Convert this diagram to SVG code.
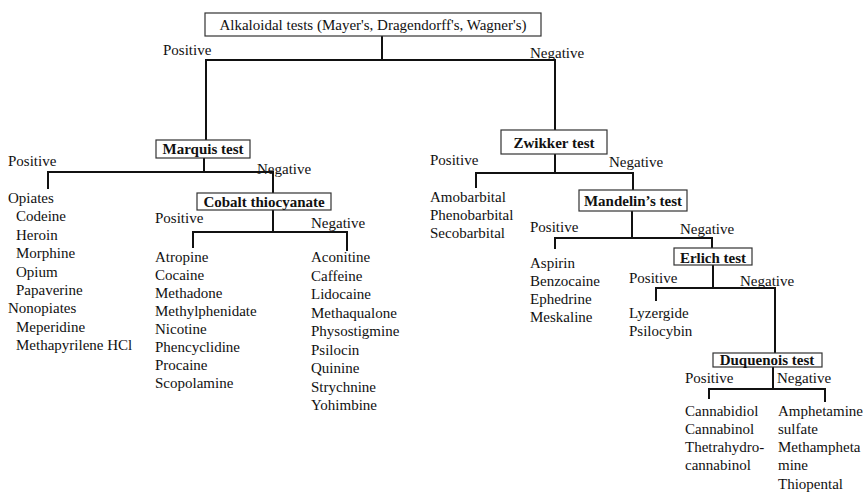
<svg xmlns="http://www.w3.org/2000/svg" width="865" height="493" viewBox="0 0 865 493" font-family="'Liberation Serif', Tinos, 'Times New Roman', 'DejaVu Serif', serif">
  <style>
    text { font-family: "Liberation Serif", Tinos, "Times New Roman", "DejaVu Serif", serif; font-size: 15px; fill: #111; }
    .b { font-weight: bold; }
    .box { fill: #fff; stroke: #333; stroke-width: 1.2; }
    .ln { fill: none; stroke: #111; stroke-width: 2; stroke-linecap: square; }
  </style>
  <rect width="865" height="493" fill="#fff"/>

  <!-- connectors -->
  <g id="connectors" class="ln">
    <path d="M382 36 V60 M206 60 H555 M206 60 V140 M555 60 V130"/>
    <path d="M204 158 V172 M48 172 H273 M48 172 V188 M273 172 V193"/>
    <path d="M273 210 V232 M193 232 H347 M193 232 V247 M347 232 V250"/>
    <path d="M555 154 V173 M476 173 H633 M476 173 V187 M633 173 V190"/>
    <path d="M632 211 V238 M555 238 H712 M555 238 V248 M712 238 V248"/>
    <path d="M713 265 V288 M656 288 H775 M656 288 V300 M775 288 V353"/>
    <path d="M773 367 V389 M709 389 H825 M709 389 V398 M825 389 V401"/>
  </g>

  <!-- root -->
  <g id="alkaloidal">
    <rect class="box" x="205" y="13" width="336" height="23"/>
    <text x="373" y="30" text-anchor="middle">Alkaloidal tests (Mayer's, Dragendorff's, Wagner's)</text>
    <text x="163" y="55">Positive</text>
    <text x="530" y="58">Negative</text>
  </g>

  <!-- Marquis branch -->
  <g id="marquis">
    <rect class="box" x="156" y="140" width="94" height="18"/>
    <text class="b" x="203" y="154" text-anchor="middle">Marquis test</text>
    <text x="8" y="166">Positive</text>
    <text x="257" y="174">Negative</text>
  </g>
  <g id="opiates">
    <text x="8" y="203">Opiates</text>
    <text x="16" y="221">Codeine</text>
    <text x="16" y="240">Heroin</text>
    <text x="16" y="258">Morphine</text>
    <text x="16" y="277">Opium</text>
    <text x="16" y="295">Papaverine</text>
    <text x="8" y="313">Nonopiates</text>
    <text x="16" y="332">Meperidine</text>
    <text x="16" y="350">Methapyrilene HCl</text>
  </g>

  <g id="cobalt">
    <rect class="box" x="197" y="193" width="134" height="17"/>
    <text class="b" x="264" y="207" text-anchor="middle">Cobalt thiocyanate</text>
    <text x="155" y="223">Positive</text>
    <text x="311" y="228">Negative</text>
  </g>
  <g id="cobalt-positive">
    <text x="155" y="262">Atropine</text>
    <text x="155" y="280">Cocaine</text>
    <text x="155" y="298">Methadone</text>
    <text x="155" y="316">Methylphenidate</text>
    <text x="155" y="334">Nicotine</text>
    <text x="155" y="352">Phencyclidine</text>
    <text x="155" y="370">Procaine</text>
    <text x="155" y="388">Scopolamine</text>
  </g>
  <g id="cobalt-negative">
    <text x="311" y="262">Aconitine</text>
    <text x="311" y="280.5">Caffeine</text>
    <text x="311" y="299">Lidocaine</text>
    <text x="311" y="317.5">Methaqualone</text>
    <text x="311" y="336">Physostigmine</text>
    <text x="311" y="354.5">Psilocin</text>
    <text x="311" y="373">Quinine</text>
    <text x="311" y="391.5">Strychnine</text>
    <text x="311" y="410">Yohimbine</text>
  </g>

  <!-- Zwikker branch -->
  <g id="zwikker">
    <rect class="box" x="501" y="130" width="106" height="24"/>
    <text class="b" x="554" y="148" text-anchor="middle">Zwikker test</text>
    <text x="430" y="165">Positive</text>
    <text x="609" y="167">Negative</text>
  </g>
  <g id="barbiturates">
    <text x="430" y="202">Amobarbital</text>
    <text x="430" y="220">Phenobarbital</text>
    <text x="430" y="238">Secobarbital</text>
  </g>

  <g id="mandelin">
    <rect class="box" x="579" y="190" width="108" height="21"/>
    <text class="b" x="633" y="206" text-anchor="middle">Mandelin’s test</text>
    <text x="530" y="232">Positive</text>
    <text x="680" y="234">Negative</text>
  </g>
  <g id="mandelin-positive">
    <text x="530" y="268">Aspirin</text>
    <text x="530" y="286">Benzocaine</text>
    <text x="530" y="304">Ephedrine</text>
    <text x="530" y="322">Meskaline</text>
  </g>

  <g id="erlich">
    <rect class="box" x="674" y="248" width="78" height="17"/>
    <text class="b" x="713" y="263" text-anchor="middle">Erlich test</text>
    <text x="629" y="283">Positive</text>
    <text x="740" y="286">Negative</text>
  </g>
  <g id="erlich-positive">
    <text x="629" y="318">Lyzergide</text>
    <text x="629" y="336">Psilocybin</text>
  </g>

  <g id="duquenois">
    <rect class="box" x="713" y="353" width="109" height="14"/>
    <text class="b" x="767" y="365" text-anchor="middle">Duquenois test</text>
    <text x="685" y="383">Positive</text>
    <text x="777" y="383">Negative</text>
  </g>
  <g id="duquenois-positive">
    <text x="685" y="416">Cannabidiol</text>
    <text x="685" y="434">Cannabinol</text>
    <text x="685" y="452">Thetrahydro-</text>
    <text x="685" y="470">cannabinol</text>
  </g>
  <g id="duquenois-negative">
    <text x="778" y="416">Amphetamine</text>
    <text x="778" y="434">sulfate</text>
    <text x="778" y="452">Methampheta</text>
    <text x="778" y="470">mine</text>
    <text x="778" y="489">Thiopental</text>
  </g>
</svg>
